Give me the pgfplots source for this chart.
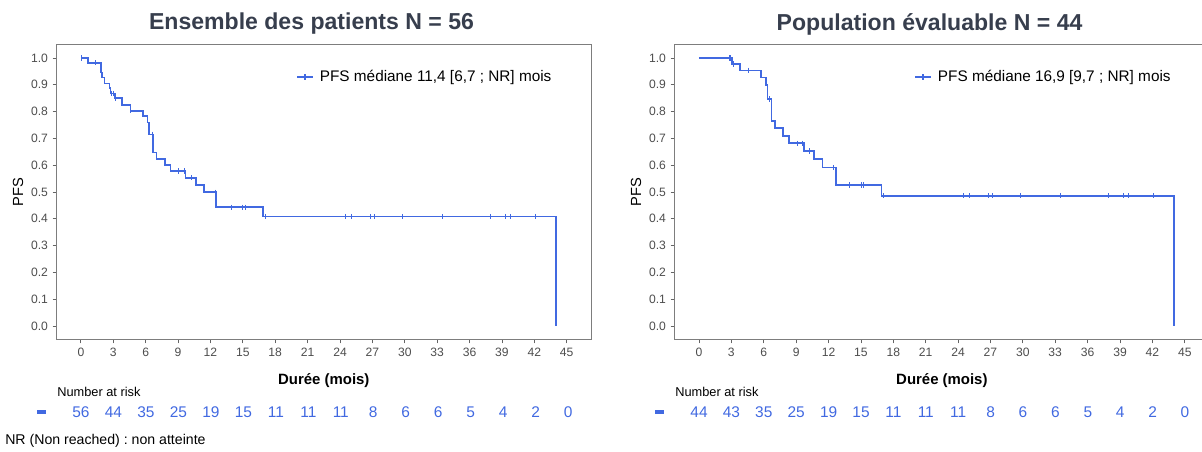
\documentclass[border=0pt]{standalone}
\usepackage{fontspec}
\setmainfont{Liberation Sans}
\usepackage{pgfplots}
\pgfplotsset{compat=1.18}
\frenchspacing

\definecolor{kmBlue}{RGB}{65,105,225}
\definecolor{titleCol}{RGB}{55,62,77}
\definecolor{tickText}{RGB}{77,77,77}
\definecolor{frameGray}{RGB}{125,125,125}

\pgfplotsset{
  kmaxis/.style={
    width=400.8pt, height=221.1pt, scale only axis,
    anchor=south west,
    xmin=-2.25, xmax=47.25, ymin=-0.05, ymax=1.05,
    xtick={0,3,...,45},
    ytick={0,0.1,0.2,0.3,0.4,0.5,0.6,0.7,0.8,0.9,1.0},
    yticklabel style={/pgf/number format/.cd, fixed, fixed zerofill, precision=1},
    /pgf/number format/assume math mode=true,
    axis line style={draw=frameGray, line width=0.7pt},
    tick style={draw=frameGray!80!black, line width=0.6pt},
    tick align=outside, tick pos=left,
    major tick length=3pt,
    ticklabel style={font=\fontsize{9.1}{10}\selectfont, text=tickText},
    xlabel={\textbf{Durée (mois)}},
    xlabel style={at={(axis description cs:0.5,-0.141)}, anchor=center,
      font=\fontsize{11.2}{13}\selectfont},
    ylabel={PFS},
    ylabel style={at={(axis description cs:-0.0722,0.5)}, anchor=center,
      font=\fontsize{11}{13}\selectfont},
    title style={at={(axis description cs:0.477,1.0427)}, anchor=center,
      font=\fontsize{17.3}{20}\selectfont\bfseries, text=titleCol},
    legend style={at={(axis description cs:0.448,0.890)}, anchor=west,
      draw=none, fill=none, inner sep=0pt,
      font=\fontsize{11.5}{13}\selectfont,
      nodes={inner xsep=4.5pt}},
    legend cell align=left,
    legend image code/.code={\draw[mark repeat=2,mark phase=2,##1]
      plot coordinates {(0pt,0pt)(6pt,0pt)(12pt,0pt)};},
  },
  kmline/.style={kmBlue, line width=1.2pt, const plot mark left, mark=none},
  kmcens/.style={kmBlue, only marks, mark=|, mark size=2pt,
    mark options={line width=0.7pt}},
}

\begin{document}
\begin{tikzpicture}[x=0.75pt,y=0.75pt]

% ---- Ensemble des patients ----
\begin{axis}[kmaxis, at={(42.45pt,84.45pt)},
  title={Ensemble des patients N = 56}]
\addlegendimage{kmBlue, line width=1.2pt, mark=|, mark size=2pt}
\addlegendentry{PFS médiane 11,4 [6,7 ; NR] mois}
\addplot[kmline, forget plot] coordinates {
  (0,1.0)(0.68,0.982)(1.88,0.946)(1.97,0.927)(2.19,0.905)(2.65,0.887)
  (2.74,0.868)(3.14,0.850)(3.82,0.825)(4.59,0.803)(5.76,0.784)(6.16,0.759)
  (6.31,0.715)(6.68,0.647)(6.99,0.623)(7.79,0.601)(8.31,0.578)(9.70,0.553)
  (10.65,0.526)(11.42,0.499)(12.53,0.443)(16.87,0.408)(44.0,0)
};
\addplot[kmcens, forget plot] coordinates {
  (0.06,1.0)(1.36,0.982)(2.80,0.868)(2.98,0.868)(3.20,0.850)(4.62,0.803)
  (6.59,0.715)(9.08,0.578)(9.55,0.578)(10.22,0.553)(12.44,0.499)
  (13.98,0.443)(14.99,0.443)(15.21,0.443)(17.09,0.408)(24.5,0.408)
  (25.1,0.408)(26.8,0.408)(27.2,0.408)(29.8,0.408)(33.45,0.408)
  (37.9,0.408)(39.35,0.408)(39.8,0.408)(42.1,0.408)
};
\end{axis}

% ---- Population evaluable ----
\begin{axis}[kmaxis, at={(506.0pt,84.45pt)},
  title={Population évaluable N = 44}]
\addlegendimage{kmBlue, line width=1.2pt, mark=|, mark size=2pt}
\addlegendentry{PFS médiane 16,9 [9,7 ; NR] mois}
\addplot[kmline, forget plot] coordinates {
  (0,1.0)(3.08,0.978)(3.82,0.954)(5.74,0.927)(6.20,0.899)(6.36,0.847)
  (6.73,0.765)(7.04,0.738)(7.81,0.710)(8.36,0.682)(9.72,0.653)(10.68,0.622)
  (11.46,0.591)(12.69,0.526)(16.91,0.486)(44.0,0)
};
\addplot[kmcens, forget plot] coordinates {
  (2.81,1.0)(2.96,1.0)(3.24,0.978)(4.63,0.954)(6.57,0.847)(9.10,0.682)
  (9.60,0.682)(10.28,0.653)(12.47,0.591)(13.98,0.526)(15.06,0.526)
  (15.28,0.526)(17.10,0.486)(24.5,0.486)(25.1,0.486)(26.8,0.486)
  (27.2,0.486)(29.8,0.486)(33.45,0.486)(37.9,0.486)(39.35,0.486)
  (39.8,0.486)(42.1,0.486)
};
\end{axis}

% ---- number at risk ----
\node[anchor=west, inner sep=0pt, font=\fontsize{9.6}{11}\selectfont] at (57,60) {Number at risk};
\node[anchor=west, inner sep=0pt, font=\fontsize{9.6}{11}\selectfont] at (675,60) {Number at risk};
\draw[kmBlue, line width=2.4pt] (37,40) -- (46,40);
\draw[kmBlue, line width=2.4pt] (655,40) -- (664,40);
\foreach \i/\n in {0/56,1/44,2/35,3/25,4/19,5/15,6/11,7/11,8/11,9/8,10/6,11/6,12/5,13/4,14/2,15/0}
  \node[kmBlue, font=\fontsize{11.6}{13}\selectfont] at ({81+32.475*\i},40) {\n};
\foreach \i/\n in {0/44,1/43,2/35,3/25,4/19,5/15,6/11,7/11,8/11,9/8,10/6,11/6,12/5,13/4,14/2,15/0}
  \node[kmBlue, font=\fontsize{11.6}{13}\selectfont] at ({699+32.4*\i},40) {\n};

\node[anchor=west, inner sep=0pt, font=\fontsize{10.6}{12}\selectfont] at (5,11) {NR (Non reached) : non atteinte};

\pgfresetboundingbox
\useasboundingbox (0,0) rectangle (1202,452);
\end{tikzpicture}
\end{document}
